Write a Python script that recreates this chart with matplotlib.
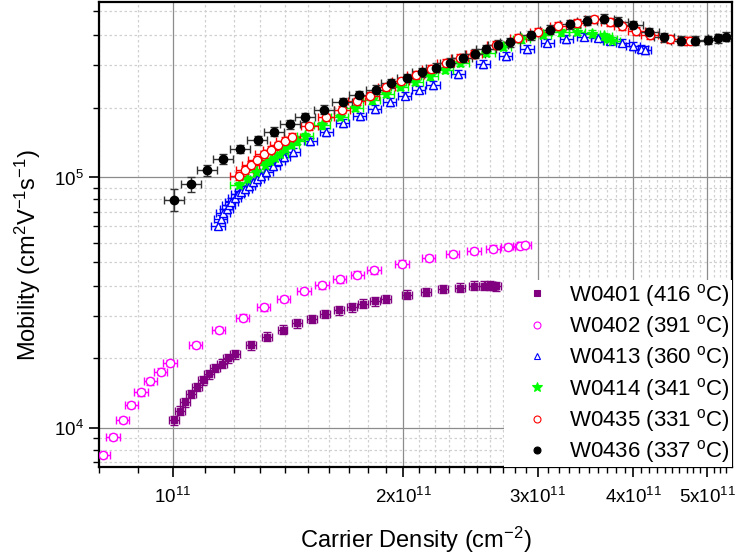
import numpy as np
import matplotlib
matplotlib.use('Agg')
import matplotlib.pyplot as plt
from matplotlib.ticker import FixedLocator, NullFormatter
from matplotlib.lines import Line2D

plt.rcParams['font.family'] = ['Liberation Sans', 'DejaVu Sans']
plt.rcParams['mathtext.fontset'] = 'custom'
plt.rcParams['mathtext.rm'] = 'Liberation Sans'
plt.rcParams['mathtext.it'] = 'Liberation Sans:italic'
plt.rcParams['mathtext.default'] = 'regular'

## data (carrier density in 1e11 cm^-2, mobility in cm^2/Vs)
w0401_n = [1.002, 1.021, 1.037, 1.056, 1.074, 1.093, 1.115, 1.136, 1.158, 1.180, 1.204,
           1.264, 1.326, 1.391, 1.455, 1.519, 1.580, 1.648, 1.714, 1.775, 1.838, 1.900,
           2.024, 2.144, 2.259, 2.378, 2.477, 2.553, 2.597, 2.623, 2.650]
w0401_mu = [1.076e4, 1.174e4, 1.27e4, 1.37e4, 1.46e4, 1.555e4, 1.64e4, 1.74e4, 1.81e4, 1.90e4, 1.97e4,
            2.14e4, 2.32e4, 2.47e4, 2.62e4, 2.73e4, 2.86e4, 2.95e4, 3.04e4, 3.14e4, 3.21e4, 3.28e4,
            3.41e4, 3.50e4, 3.59e4, 3.64e4, 3.70e4, 3.70e4, 3.71e4, 3.69e4, 3.68e4]

w0402_n = [0.810, 0.835, 0.859, 0.882, 0.908, 0.934, 0.963, 0.991, 1.071, 1.148, 1.233, 1.314, 1.396,
           1.484, 1.567, 1.653, 1.743, 1.833, 1.994, 2.161, 2.323, 2.477, 2.623, 2.745, 2.844, 2.886]
w0402_mu = [7.82e3, 9.24e3, 1.079e4, 1.24e4, 1.39e4, 1.54e4, 1.68e4, 1.82e4, 2.15e4, 2.47e4, 2.76e4,
            3.03e4, 3.28e4, 3.52e4, 3.71e4, 3.92e4, 4.10e4, 4.26e4, 4.53e4, 4.78e4, 4.96e4, 5.09e4,
            5.20e4, 5.28e4, 5.35e4, 5.39e4]

w0413_n = [1.145, 1.155, 1.163, 1.175, 1.183, 1.192, 1.204, 1.216, 1.229, 1.244, 1.257, 1.273, 1.288,
           1.305, 1.325, 1.352, 1.372, 1.396, 1.436, 1.513, 1.588, 1.668, 1.756, 1.837, 1.921, 2.010,
           2.097, 2.189, 2.361, 2.546, 2.724, 2.907, 3.091, 3.273, 3.451, 3.600, 3.728, 3.875, 4.000,
           4.103, 4.144]
w0413_mu = [6.43e4, 6.83e4, 7.22e4, 7.49e4, 7.76e4, 8.00e4, 8.30e4, 8.56e4, 8.77e4, 8.99e4, 9.26e4,
            9.55e4, 9.85e4, 1.015e5, 1.047e5, 1.112e5, 1.164e5, 1.207e5, 1.264e5, 1.393e5, 1.519e5,
            1.647e5, 1.751e5, 1.878e5, 2.003e5, 2.121e5, 2.241e5, 2.346e5, 2.594e5, 2.835e5, 3.057e5,
            3.259e5, 3.452e5, 3.571e5, 3.647e5, 3.613e5, 3.516e5, 3.452e5, 3.350e5, 3.268e5, 3.229e5]

w0414_n = [1.219, 1.250, 1.284, 1.321, 1.341, 1.359, 1.379, 1.403, 1.426, 1.453, 1.489, 1.567, 1.653,
           1.729, 1.819, 1.898, 1.980, 2.072, 2.168, 2.268, 2.378, 2.572, 2.704, 2.858, 3.050, 3.218,
           3.380, 3.537, 3.662, 3.718, 3.758]
w0414_mu = [9.32e4, 9.85e4, 1.047e5, 1.119e5, 1.164e5, 1.200e5, 1.245e5, 1.307e5, 1.347e5, 1.397e5,
            1.463e5, 1.613e5, 1.743e5, 1.896e5, 2.032e5, 2.160e5, 2.296e5, 2.411e5, 2.530e5, 2.690e5,
            2.860e5, 3.133e5, 3.329e5, 3.561e5, 3.704e5, 3.797e5, 3.817e5, 3.745e5, 3.660e5, 3.577e5,
            3.516e5]

w0435_n = [1.219, 1.241, 1.264, 1.287, 1.314, 1.344, 1.374, 1.400, 1.431, 1.508, 1.586, 1.664, 1.740,
           1.813, 1.902, 1.986, 2.078, 2.175, 2.275, 2.373, 2.477, 2.645, 2.829, 3.004, 3.191, 3.380,
           3.553, 3.728, 3.875, 4.042, 4.207, 4.468, 4.699, 4.746]
w0435_mu = [1.015e5, 1.069e5, 1.122e5, 1.179e5, 1.237e5, 1.287e5, 1.343e5, 1.397e5, 1.454e5, 1.598e5,
            1.735e5, 1.866e5, 2.014e5, 2.121e5, 2.288e5, 2.417e5, 2.570e5, 2.707e5, 2.868e5, 3.002e5,
            3.105e5, 3.381e5, 3.594e5, 3.817e5, 4.032e5, 4.145e5, 4.276e5, 4.183e5, 4.021e5, 3.842e5,
            3.704e5, 3.561e5, 3.516e5, 3.516e5]

w0436_n = [1.002, 1.055, 1.108, 1.164, 1.225, 1.290, 1.356, 1.424, 1.490, 1.576, 1.667, 1.751, 1.846,
           1.931, 2.024, 2.118, 2.212, 2.302, 2.393, 2.483, 2.572, 2.661, 2.759, 2.937, 3.119, 3.306,
           3.487, 3.662, 3.823, 4.000, 4.198, 4.392, 4.618, 4.818, 5.015, 5.169, 5.301]
w0436_mu = [8.15e4, 9.38e4, 1.069e5, 1.182e5, 1.299e5, 1.410e5, 1.522e5, 1.627e5, 1.735e5, 1.866e5,
            1.997e5, 2.126e5, 2.241e5, 2.374e5, 2.494e5, 2.624e5, 2.740e5, 2.868e5, 3.002e5, 3.122e5,
            3.259e5, 3.390e5, 3.465e5, 3.694e5, 3.888e5, 4.084e5, 4.222e5, 4.299e5, 4.183e5, 4.058e5,
            3.806e5, 3.627e5, 3.516e5, 3.516e5, 3.539e5, 3.594e5, 3.647e5]

# relative errors (%) in x and y
err_pct = {'W0401': (1.5, 4.0), 'W0402': (2.0, 3.0), 'W0413': (2.0, 3.5),
           'W0414': (2.5, 3.0), 'W0435': (2.5, 3.5), 'W0436': (3.0, 4.0)}
w0436_yerr_pct = [10, 7, 5, 4.5] + [4] * 33

series = [
    ('W0401', '416', w0401_n, w0401_mu, '#800080', 's', '#800080', 5),
    ('W0402', '391', w0402_n, w0402_mu, '#FF00FF', 'o', 'white', 6),
    ('W0413', '360', w0413_n, w0413_mu, '#0000FF', '^', 'white', 6),
    ('W0414', '341', w0414_n, w0414_mu, '#00FF00', '*', '#00FF00', 8),
    ('W0435', '331', w0435_n, w0435_mu, '#FF0000', 'o', 'white', 6),
    ('W0436', '337', w0436_n, w0436_mu, '#000000', 'o', '#000000', 6),
]

fig = plt.figure(figsize=(7.36, 5.58), dpi=100)
ax = fig.add_axes([0.1345, 0.163, 0.86, 0.833])
ax.set_xscale('log')
ax.set_yscale('log')

handles = []
for name, temp, n, mu, col, mk, fc, ms in series:
    x = np.array(n) * 1e11
    y = np.array(mu)
    xp, yp = err_pct[name]
    if name == 'W0436':
        yerr = y * np.array(w0436_yerr_pct) / 100
    else:
        yerr = y * yp / 100
    ecol = '#333333' if col == '#000000' else col
    ax.errorbar(x, y, xerr=x * xp / 100, yerr=yerr, fmt=mk, color=col, mfc=fc, mec=col,
                ms=ms, mew=1.0, ecolor=ecol, elinewidth=1.0, capsize=3, capthick=1.0,
                zorder=3)
    handles.append(Line2D([], [], ls='none', marker=mk, color=col, mfc=fc if fc != 'white' else 'none',
                          mec=col, ms=5 if mk != '*' else 7, mew=0.8,
                          label=name + ' (' + temp + ' $^{o}$C)'))

ax.set_xlim(8.0e10, 5.39e11)
ax.set_ylim(7.0e3, 5.0e5)

# Origin-style ticks
ax.xaxis.set_major_locator(FixedLocator([1e11, 2e11, 3e11, 4e11, 5e11]))
ax.set_xticklabels(['10$^{11}$', '2x10$^{11}$', '3x10$^{11}$', '4x10$^{11}$', '5x10$^{11}$'],
                   fontsize=13.5)
xminor = [v * 1e10 for v in range(8, 54) if v % 10 != 0]
ax.xaxis.set_minor_locator(FixedLocator(xminor))
ax.xaxis.set_minor_formatter(NullFormatter())

ax.yaxis.set_major_locator(FixedLocator([1e4, 1e5]))
ax.set_yticklabels(['10$^4$', '10$^5$'], fontsize=13.5)
yminor = []
for dec in [1e3, 1e4, 1e5]:
    for k in range(1, 10):
        yminor.append(dec * (1 + 0.9 * k))
ax.yaxis.set_minor_locator(FixedLocator(yminor))
ax.yaxis.set_minor_formatter(NullFormatter())

ax.tick_params(which='major', direction='out', length=7, width=1.2)
ax.tick_params(axis='x', which='major', pad=7)
ax.tick_params(axis='y', which='major', pad=4)
ax.tick_params(which='minor', direction='out', length=4, width=1.0)
ax.tick_params(top=False, right=False)

ax.grid(which='major', color='#8c8c8c', lw=0.9, ls='-', zorder=0)
ax.grid(which='minor', color='#d0d0d0', lw=0.9, ls=(0, (2, 2)), zorder=0)
ax.set_axisbelow(True)

for sp in ax.spines.values():
    sp.set_linewidth(1.6)

ax.set_xlabel('Carrier Density (cm$^{-2}$)', fontsize=17, labelpad=13)
ax.set_ylabel('Mobility (cm$^2$V$^{-1}$s$^{-1}$)', fontsize=17)
ax.yaxis.set_label_coords(-0.088, 0.456)

leg = ax.legend(handles=handles, loc='lower right', fontsize=16, frameon=True, fancybox=False,
                edgecolor='none', facecolor='white', framealpha=1.0, borderaxespad=0.0,
                handletextpad=0.05, handlelength=2.8, labelspacing=0.195, borderpad=0.08)
leg.set_zorder(5)

fig.savefig('out.png', dpi=100)
